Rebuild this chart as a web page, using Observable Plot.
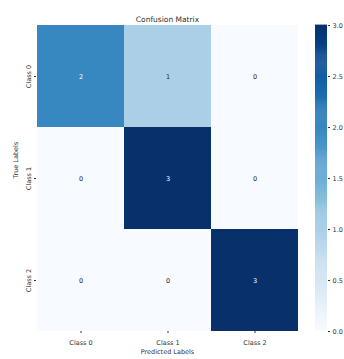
<!DOCTYPE html>
<html>
<head>
<meta charset="utf-8">
<script src="https://cdn.jsdelivr.net/npm/d3@7"></script>
<script src="https://cdn.jsdelivr.net/npm/@observablehq/plot@0.6"></script>
<style>
  body { margin: 0; background: #fff; }
  #wrap { position: relative; width: 344px; height: 359px; font-family: "DejaVu Sans", sans-serif; }
  #wrap svg { position: absolute; top: 0; overflow: hidden; }
</style>
</head>
<body>
<div id="wrap"></div>
<script>
const classes = ["Class 0", "Class 1", "Class 2"];
const trueLabels = ["Class 0", "Class 1", "Class 2"];
const matrix = [
  [2, 1, 0],
  [0, 3, 0],
  [0, 0, 3]
];
const colorTicks = [0, 0.5, 1, 1.5, 2, 2.5, 3];
const colorMax = 3;

const cells = [];
trueLabels.forEach((t, i) => classes.forEach((p, j) => cells.push({ pred: p, truth: t, value: matrix[i][j] })));

const interp = d3.interpolateBlues;
const lum = (c) => {
  const r = d3.rgb(c);
  const f = (v) => { v /= 255; return v <= 0.03928 ? v / 12.92 : Math.pow((v + 0.055) / 1.055, 2.4); };
  return 0.2126 * f(r.r) + 0.7152 * f(r.g) + 0.0722 * f(r.b);
};

const main = Plot.plot({
  width: 344,
  height: 359,
  marginLeft: 36,
  marginRight: 46,
  marginTop: 25,
  marginBottom: 28,
  style: { fontFamily: "DejaVu Sans, sans-serif", fontSize: "6.5px", color: "#333", background: "transparent" },
  x: { domain: classes, padding: 0, label: null },
  y: { domain: trueLabels, padding: 0, label: null },
  color: { type: "linear", scheme: "blues", domain: [0, colorMax] },
  marks: [
    Plot.cell(cells, { x: "pred", y: "truth", fill: "value" }),
    Plot.text(cells, {
      x: "pred", y: "truth", text: d => String(d.value), fontSize: 6.5,
      fill: d => lum(interp(d.value / colorMax)) < 0.408 ? "#ffffff" : "#262626"
    }),
    Plot.axisX({ tickSize: 2, tickPadding: 7, fontSize: 6.5, label: null }),
    Plot.axisY({ tickSize: 2, tickPadding: 4, fontSize: 6.5, tickRotate: -90, label: null }),
    Plot.text(["Predicted Labels"], { frameAnchor: "bottom", dy: 22, fontSize: 6.5, fill: "#333" }),
    Plot.text(["True Labels"], { frameAnchor: "left", dx: -21, rotate: -90, fontSize: 6.5, fill: "#333" }),
    Plot.text(["Confusion Matrix"], { frameAnchor: "top", dy: -9, fontSize: 7.5, fill: "#333" })
  ]
});
main.style.left = "0px";

const steps = d3.range(0, colorMax, colorMax / 300);
const bar = Plot.plot({
  width: 29,
  height: 359,
  marginLeft: 0,
  marginRight: 17,
  marginTop: 25,
  marginBottom: 28,
  style: { fontFamily: "DejaVu Sans, sans-serif", fontSize: "6.5px", color: "#333", background: "transparent", overflow: "hidden" },
  x: { axis: null, domain: [0, 1] },
  y: { domain: [0, colorMax], axis: null },
  color: { type: "linear", scheme: "blues", domain: [0, colorMax] },
  marks: [
    Plot.rect(steps, { x1: 0, x2: 1, y1: d => d, y2: d => d + colorMax / 300 + 0.004, fill: d => d + colorMax / 600 }),
    Plot.axisY({ anchor: "right", ticks: colorTicks, tickFormat: d3.format(".1f"), tickSize: 2, tickPadding: 3, fontSize: 6.5, label: null })
  ]
});
bar.style.left = "315px";

const wrap = document.getElementById("wrap");
wrap.appendChild(main);
wrap.appendChild(bar);
</script>
</body>
</html>
